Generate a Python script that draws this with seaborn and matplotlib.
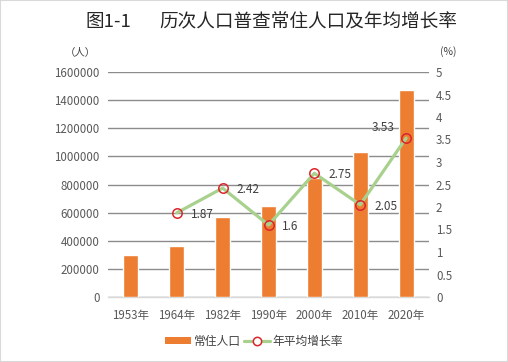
import matplotlib
matplotlib.use("Agg")
import matplotlib.pyplot as plt
from matplotlib.patches import Rectangle, Patch
from matplotlib.lines import Line2D
import seaborn as sns
import numpy as np
import pandas as pd

years = ["1953年", "1964年", "1982年", "1990年", "2000年", "2010年", "2020年"]
population = [298000, 362000, 570000, 645000, 845000, 1034000, 1469000]
growth_rate = [np.nan, 1.87, 2.42, 1.6, 2.75, 2.05, 3.53]
rate_labels = ["", "1.87", "2.42", "1.6", "2.75", "2.05", "3.53"]
left_ticks = [0, 200000, 400000, 600000, 800000, 1000000, 1200000, 1400000, 1600000]
right_ticks = [0, 0.5, 1, 1.5, 2, 2.5, 3, 3.5, 4, 4.5, 5]
right_ticklabels = ["0", "0.5", "1", "1.5", "2", "2.5", "3", "3.5", "4", "4.5", "5"]
title_fig = "图1-1"
title_main = "历次人口普查常住人口及年均增长率"
series_names = ["常住人口", "年平均增长率"]

sns.set_theme(style="white")
plt.rcParams["font.family"] = ["Noto Sans CJK SC", "DejaVu Sans"]

BAR = "#ed7d31"
LINE = "#a9d18e"
MARK = "#d9262b"
TXT = "#595959"

df = pd.DataFrame({"year": years, "pop": population, "rate": growth_rate})

fig = plt.figure(figsize=(5.08, 3.62), dpi=100)
ax = fig.add_axes([108 / 508, 65 / 362, 321 / 508, 225 / 362])

sns.barplot(data=df, x="year", y="pop", order=years, color=BAR, width=0.33,
            saturation=1, ax=ax, zorder=2)
ax.set_ylim(0, 1600000)
ax.set_yticks(left_ticks)
ax.set_yticklabels([str(v) for v in left_ticks])
ax.yaxis.grid(True, color="#8c8c8c", linewidth=1.0, zorder=0)
ax.set_axisbelow(True)
ax.set_xlabel("")
ax.set_ylabel("")
for s in ["left", "right", "top"]:
    ax.spines[s].set_visible(False)
ax.spines["bottom"].set_color("#d9d9d9")
ax.spines["bottom"].set_linewidth(1.0)
ax.spines["bottom"].set_zorder(1)

ax2 = ax.twinx()
sns.pointplot(data=df, x="year", y="rate", order=years, color=LINE, markers="o",
              errorbar=None, ax=ax2, linewidth=2.3, markersize=6.8,
              markerfacecolor="none", markeredgecolor=MARK, markeredgewidth=1.1)
ax2.set_ylim(0, 5)
ax2.set_yticks(right_ticks)
ax2.set_yticklabels(right_ticklabels)
ax2.set_xlim(-0.5, len(years) - 0.5)
ax.set_xlim(-0.5, len(years) - 0.5)
ax2.set_ylabel("")
ax2.set_xlabel("")
for s in ["left", "right", "top", "bottom"]:
    ax2.spines[s].set_visible(False)
ax2.grid(False)

ax.set_xticks(range(len(years)))
ax.set_xticklabels(years)
ax.set_xticks(np.arange(-0.5, len(years), 1.0), minor=True)
ax.tick_params(axis="x", which="major", length=0, pad=9, labelsize=8.3, labelcolor=TXT)
ax.tick_params(axis="x", which="minor", length=5, width=1, color="#d9d9d9", direction="out")
ax.tick_params(axis="y", length=0, pad=6, labelsize=8.3, labelcolor=TXT)
ax2.tick_params(axis="y", length=0, pad=5, labelsize=8.3, labelcolor=TXT)

# data labels
for i, (v, lab) in enumerate(zip(growth_rate, rate_labels)):
    if not lab:
        continue
    if i == len(years) - 1:
        ax2.annotate(lab, (i, v), xytext=(-8, 8), textcoords="offset points",
                     ha="right", va="center", fontsize=8.5, color="#404040")
    else:
        ax2.annotate(lab, (i, v), xytext=(10, -1), textcoords="offset points",
                     ha="left", va="center", fontsize=8.5, color="#404040")

fig.text(85 / 508, 1 - 22 / 362, title_fig, ha="left", va="center", fontsize=13.4, color="#262626")
fig.text(457 / 508, 1 - 22 / 362, title_main, ha="right", va="center", fontsize=13.4, color="#262626")
fig.text(80 / 508, 1 - 53 / 362, "（人）", ha="center", va="center", fontsize=7.5, color="#404040")
fig.text(448 / 508, 1 - 52 / 362, "(%)", ha="center", va="center", fontsize=7.5, color="#404040")

handles = [Patch(facecolor=BAR, edgecolor="none"),
           Line2D([0], [0], color=LINE, linewidth=2.3, marker="o", markersize=6.0,
                  markerfacecolor="white", markeredgecolor=MARK, markeredgewidth=1.1)]
fig.legend(handles, series_names, loc="center", bbox_to_anchor=(0.5, 1 - 341 / 362),
           ncol=2, frameon=False, fontsize=8.5, handlelength=2.2, handleheight=0.55,
           handletextpad=0.2, columnspacing=0.3, labelcolor="#404040")

fig.patches.append(Rectangle((0, 0), 1, 1, transform=fig.transFigure, fill=False,
                             edgecolor="#d9d9d9", linewidth=1.5))

fig.savefig("out.png", dpi=100)
